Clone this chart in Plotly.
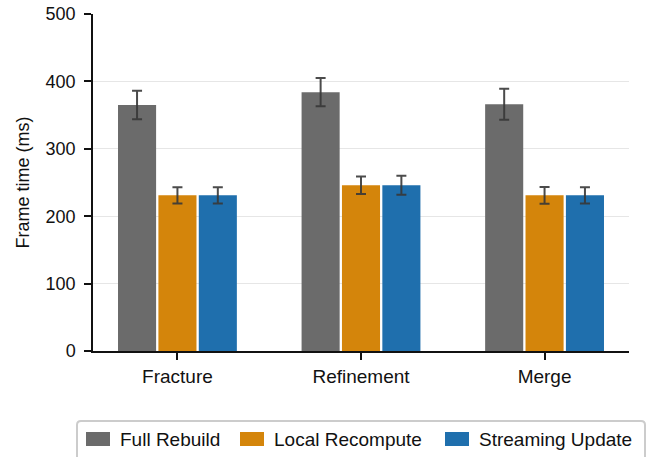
import plotly.graph_objects as go

# Frame time per scenario for each update strategy
scenarios = ["Fracture", "Refinement", "Merge"]
methods = ["Full Rebuild", "Local Recompute", "Streaming Update"]
full_rebuild = [365, 384, 366]
full_rebuild_err = [21, 21, 23]
local_recompute = [231, 246, 231]
local_recompute_err = [12, 13, 12.5]
streaming_update = [231, 246, 231]
streaming_update_err = [12, 14, 12]
y_ticks = [0, 100, 200, 300, 400, 500]

colors = ["#6b6b6b", "#d4850b", "#1f6fad"]
values = [full_rebuild, local_recompute, streaming_update]
errors = [full_rebuild_err, local_recompute_err, streaming_update_err]

FONT = "Liberation Sans, Arial, Helvetica, sans-serif"
INK = "#111111"

W, H = 651, 457
ML, MR, MT, MB = 93, 22, 14, 106
PW, PH = W - ML - MR, H - MT - MB


def px_to_paper(px, py):
    """Convert page pixel coordinates to paper coordinates."""
    return (px - ML) / PW, (H - MB - py) / PH


fig = go.Figure()
for name, vals, errs, col in zip(methods, values, errors, colors):
    fig.add_trace(go.Bar(
        name=name,
        x=scenarios,
        y=vals,
        marker=dict(color=col, line=dict(width=0)),
        error_y=dict(type="data", array=errs, visible=True,
                     color="rgba(55,55,55,0.9)", thickness=2, width=5),
        showlegend=False,
    ))

# Legend drawn as a framed row of wide swatches with labels beneath the axes
shapes = []
annotations = []
x0, y0 = px_to_paper(77, 421)
x1, y1 = px_to_paper(645, 462)
r = 4 / PW
ry = 4 / PH
shapes.append(dict(
    type="path", xref="paper", yref="paper",
    path=(f"M {x0 + r},{y0} L {x1 - r},{y0} Q {x1},{y0} {x1},{y0 - ry} "
          f"L {x1},{y1} L {x0},{y1} L {x0},{y0 - ry} Q {x0},{y0} {x0 + r},{y0} Z"),
    line=dict(color="#cccccc", width=2), fillcolor="white", layer="above",
))
swatch_left = [86, 240, 445]
text_left = [118, 272, 477]
for name, col, sx, tx in zip(methods, colors, swatch_left, text_left):
    ax0, ay0 = px_to_paper(sx, 432)
    ax1, ay1 = px_to_paper(sx + 24, 446)
    shapes.append(dict(type="rect", xref="paper", yref="paper",
                       x0=ax0, x1=ax1, y0=ay1, y1=ay0,
                       line=dict(width=0), fillcolor=col, layer="above"))
    tx_p, ty_p = px_to_paper(tx, 439)
    annotations.append(dict(
        text=name, xref="paper", yref="paper", x=tx_p, y=ty_p,
        xanchor="left", yanchor="middle", showarrow=False,
        font=dict(size=19, family=FONT, color=INK),
    ))

fig.update_layout(
    width=W, height=H,
    margin=dict(l=ML, r=MR, t=MT, b=MB, autoexpand=False),
    paper_bgcolor="white",
    plot_bgcolor="white",
    barmode="group",
    bargap=0.34,
    bargroupgap=0.057,
    font=dict(family=FONT, color=INK, size=16),
    showlegend=False,
    shapes=shapes,
    annotations=annotations,
)

fig.update_xaxes(
    type="category",
    range=[-0.46, 2.46],
    showline=True, linecolor=INK, linewidth=1.5,
    ticks="outside", ticklen=7, tickwidth=1.5, tickcolor=INK,
    tickfont=dict(size=19, family=FONT, color=INK),
    showgrid=False,
)

fig.update_yaxes(
    range=[0, 500],
    tickvals=y_ticks,
    showline=True, linecolor=INK, linewidth=1.5,
    ticks="outside", ticklen=7, tickwidth=1.5, tickcolor=INK,
    ticklabelstandoff=5,
    tickfont=dict(size=18, family=FONT, color=INK),
    showgrid=True, gridcolor="#e6e6e6", gridwidth=1,
    zeroline=False,
    title=dict(text="Frame time (ms)", font=dict(size=18, family=FONT, color=INK), standoff=11),
)

fig.write_html("out.html")
